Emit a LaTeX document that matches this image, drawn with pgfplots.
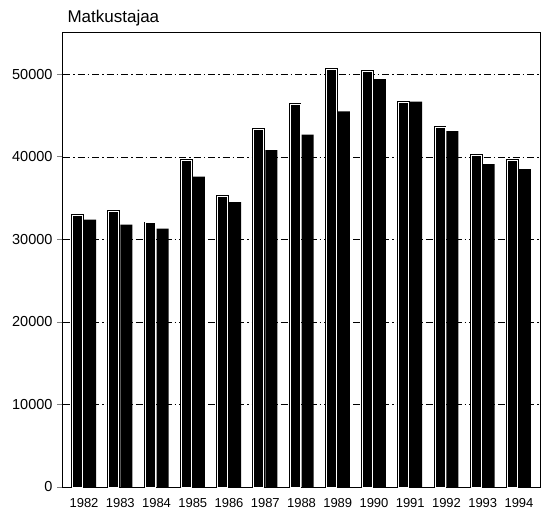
\documentclass[border=0pt]{standalone}
\usepackage{fontspec}
\setmainfont{Liberation Sans}
\usepackage{pgfplots}
\pgfplotsset{compat=1.18}
\begin{document}
\begin{tikzpicture}
\begin{axis}[
  scale only axis, width=477pt, height=454pt,
  xmin=-0.58, xmax=12.58, ymin=0, ymax=55000,
  xtick={0,1,2,3,4,5,6,7,8,9,10,11,12},
  xticklabels={1982,1983,1984,1985,1986,1987,1988,1989,1990,1991,1992,1993,1994},
  ytick={0,10000,20000,30000,40000,50000},
  scaled y ticks=false,
  ymajorgrids,
  grid style={black, line width=0.5pt, dash pattern=on 7pt off 3pt on 1.5pt off 3pt},
  tick align=outside, ytick pos=left, major tick length=6pt,
  xtick style={draw=none},
  ytick style={line width=0.8pt},
  y tick label style={font=\fontsize{14.5}{14.5}\selectfont, xshift=-1pt},
  x tick label style={font=\fontsize{13}{13}\selectfont, yshift=-2pt},
  /pgf/number format/1000 sep={}, /pgf/number format/assume math mode=true,
  axis line style={line width=1pt},
  clip=false,
]
\addplot[ybar, bar width=10pt, bar shift=-6.5pt, fill=black, draw=black, line width=0.9pt, double=white, double distance=0.9pt]
  coordinates {(0,32900) (1,33400) (2,32000) (3,39600) (4,35200) (5,43300) (6,46400) (7,50600) (8,50400) (9,46600) (10,43600) (11,40200) (12,39600)};
\addplot[ybar, bar width=12pt, bar shift=6pt, fill=black, draw=none]
  coordinates {(0,32400) (1,31800) (2,31300) (3,37600) (4,34500) (5,40800) (6,42700) (7,45500) (8,49400) (9,46700) (10,43100) (11,39100) (12,38500)};
\end{axis}
\node[anchor=base west, font=\fontsize{17}{17}\selectfont] at ([xshift=1pt,yshift=10pt]current axis.north west) {Matkustajaa};
\path ([xshift=-63pt,yshift=-26pt]current axis.south west) rectangle ([xshift=2pt,yshift=33pt]current axis.north east);
\end{tikzpicture}
\end{document}
